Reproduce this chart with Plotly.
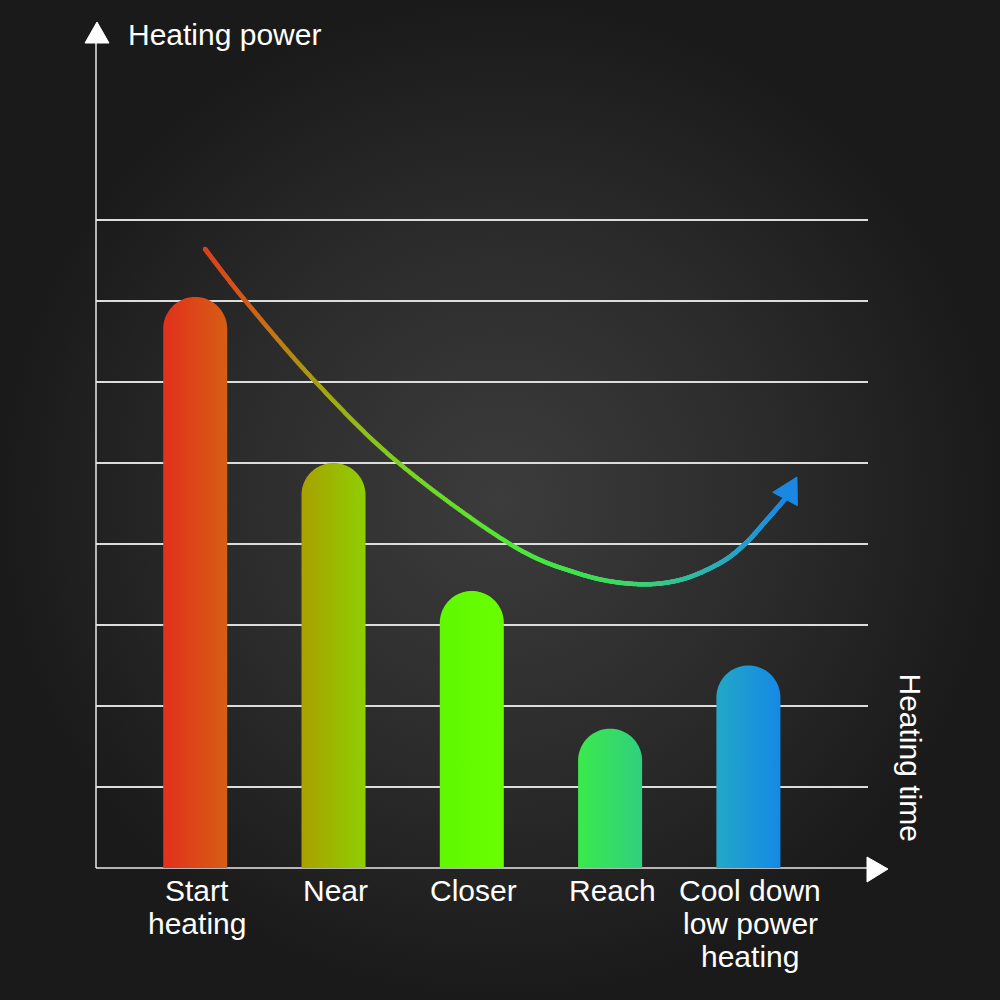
import numpy as np
import plotly.graph_objects as go

# ---------------- data ----------------
categories = ["Start<br>heating", "Near", "Closer", "Reach", "Cool down<br>low power<br>heating"]
power = [7.05, 5.0, 3.42, 1.72, 2.5]
bar_left_colors = ["#e2301c", "#aaa000", "#60f800", "#3aea4c", "#22a8c6"]
bar_right_colors = ["#d65e14", "#8ecf00", "#68ff00", "#30d07e", "#1688e6"]
grid_values = [1, 2, 3, 4, 5, 6, 7, 8]

# trend curve waypoints (category position, power level)
trend_x = [0.071, 0.364, 0.871, 1.471, 2.276, 2.782, 3.180, 3.505, 3.795, 3.975, 4.120, 4.265]
trend_y = [7.642, 7.0, 6.0, 5.0, 4.0, 3.630, 3.506, 3.556, 3.765, 4.0, 4.272, 4.556]
arrow_tip = (4.351, 4.827)
trend_colors = [[0.0, "#d8401e"], [0.09, "#d45a1a"], [0.235, "#a8a010"], [0.39, "#80d020"],
                [0.58, "#50e838"], [0.68, "#40e050"], [0.76, "#3cd470"], [0.82, "#34c098"],
                [0.88, "#2aacbc"], [0.92, "#24a0cc"], [1.0, "#1a88e2"]]

title_y = "Heating power"
title_x = "Heating time"

# ---------------- layout geometry (pixels <-> data) ----------------
W = H = 1000
X0_PX, X_UNIT = 195.2, 138.3   # category 0 centre, pixels per category
Y0_PX, Y_UNIT = 868.0, 81.0    # power 0 baseline, pixels per unit


def dx(px):
    return (px - X0_PX) / X_UNIT


def dy(py):
    return (Y0_PX - py) / Y_UNIT


def to_px(x, y):
    return X0_PX + np.asarray(x) * X_UNIT, Y0_PX - np.asarray(y) * Y_UNIT


x_range = [dx(0), dx(W)]
y_range = [dy(H), dy(0)]
AXIS_X = dx(96)
GRID_END = dx(868)
FONT = "Liberation Sans, Arial, sans-serif"

fig = go.Figure()

# background with radial gradient
fig.add_trace(go.Scatter(
    x=[x_range[0], x_range[1], x_range[1], x_range[0], x_range[0]],
    y=[y_range[0], y_range[0], y_range[1], y_range[1], y_range[0]],
    mode="lines", line=dict(width=0), fill="toself",
    fillgradient=dict(type="radial", colorscale=[[0, "#3c3c3c"], [0.55, "#2b2b2b"], [1, "#1a1a1a"]]),
    hoverinfo="skip", showlegend=False))

# gridlines
gx, gy = [], []
for v in grid_values:
    gx += [AXIS_X, GRID_END, None]
    gy += [v, v, None]
fig.add_trace(go.Scatter(x=gx, y=gy, mode="lines", line=dict(color="#dcdcdc", width=1.8),
                         hoverinfo="skip", showlegend=False))

# axis lines
fig.add_trace(go.Scatter(x=[AXIS_X, AXIS_X, None, AXIS_X, GRID_END],
                         y=[dy(42), 0, None, 0, 0],
                         mode="lines", line=dict(color="#e8e8e8", width=1.5),
                         hoverinfo="skip", showlegend=False))

# axis arrow heads
for tri in ([(97, 22), (85, 43), (109, 43)], [(888, 869), (867, 857), (867, 882)]):
    xs = [dx(p[0]) for p in tri] + [dx(tri[0][0])]
    ys = [dy(p[1]) for p in tri] + [dy(tri[0][1])]
    fig.add_trace(go.Scatter(x=xs, y=ys, mode="lines", fill="toself", fillcolor="#ffffff",
                             line=dict(color="#ffffff", width=1), hoverinfo="skip", showlegend=False))

# rounded gradient bars
half_w = 32 / X_UNIT
r_y = 32 / Y_UNIT
theta = np.linspace(np.pi, 0, 60)
for i, (v, cl, cr) in enumerate(zip(power, bar_left_colors, bar_right_colors)):
    xs = [i - half_w, i - half_w] + list(i + half_w * np.cos(theta)) + [i + half_w, i - half_w]
    ys = [0, v - r_y] + list(v - r_y + r_y * np.sin(theta)) + [0, 0]
    fig.add_trace(go.Scatter(
        x=xs, y=ys, mode="lines", line=dict(width=0, simplify=False), fill="toself",
        fillgradient=dict(type="horizontal", colorscale=[[0, cl], [1, cr]]),
        hoverinfo="skip", showlegend=False))

# trend curve (Catmull-Rom through waypoints, in pixel space)
P = np.column_stack(to_px(trend_x, trend_y))
pts = []
n = len(P)
for k in range(n - 1):
    p0 = P[max(k - 1, 0)]
    p1 = P[k]
    p2 = P[k + 1]
    p3 = P[min(k + 2, n - 1)]
    for t in np.linspace(0, 1, 80, endpoint=False):
        t2, t3 = t * t, t * t * t
        pts.append(0.5 * ((2 * p1) + (-p0 + p2) * t + (2 * p0 - 5 * p1 + 4 * p2 - p3) * t2
                          + (-p0 + 3 * p1 - 3 * p2 + p3) * t3))
pts.append(P[-1])
pts = np.array(pts)
seg = np.hypot(np.diff(pts[:, 0]), np.diff(pts[:, 1]))
s = np.concatenate([[0], np.cumsum(seg)])
s = s / s[-1]
fig.add_trace(go.Scatter(
    x=dx(pts[:, 0]), y=dy(pts[:, 1]), mode="markers",
    marker=dict(size=4.5, color=s, colorscale=trend_colors, cmin=0, cmax=1, line=dict(width=0)),
    hoverinfo="skip", showlegend=False))

# arrow head of the trend curve
tip = np.array(to_px(*arrow_tip))
mid = P[-1]
d = tip - mid
nrm = np.array([-d[1], d[0]]) / np.hypot(*d)
c1 = mid + nrm * 14
c2 = mid - nrm * 14
tri = np.array([tip, c1, c2, tip])
fig.add_trace(go.Scatter(x=dx(tri[:, 0]), y=dy(tri[:, 1]), mode="lines", fill="toself",
                         fillcolor="#1a88e2", line=dict(color="#1a88e2", width=1),
                         hoverinfo="skip", showlegend=False))

# category labels
annotations = []
for i, lab in enumerate(categories):
    for k, line in enumerate(lab.split("<br>")):
        annotations.append(dict(x=i, y=dy(890.5 + 33 * k), xref="x", yref="y", text=line,
                                showarrow=False, xanchor="center", yanchor="middle", xshift=2,
                                font=dict(family=FONT, size=30, color="#ffffff")))

annotations.append(dict(x=dx(125.5), y=dy(34.5), xref="x", yref="y", text=title_y,
                        showarrow=False, xanchor="left", yanchor="middle",
                        font=dict(family=FONT, size=30, color="#ffffff")))
annotations.append(dict(x=dx(910.5), y=dy(757), xref="x", yref="y", text=title_x,
                        showarrow=False, xanchor="center", yanchor="middle", textangle=90,
                        font=dict(family=FONT, size=30, color="#ffffff")))

fig.update_layout(
    width=W, height=H, margin=dict(l=0, r=0, t=0, b=0),
    paper_bgcolor="#1a1a1a", plot_bgcolor="#1a1a1a",
    xaxis=dict(range=x_range, visible=False, fixedrange=True),
    yaxis=dict(range=y_range, visible=False, fixedrange=True),
    annotations=annotations, showlegend=False,
)

fig.write_html("out.html")
